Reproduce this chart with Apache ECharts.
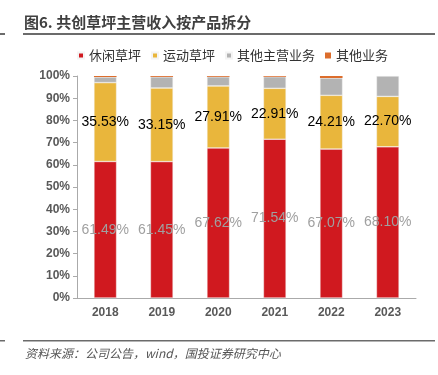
<!DOCTYPE html>
<html>
<head>
<meta charset="utf-8">
<title>共创草坪主营收入按产品拆分</title>
<script src="https://cdn.jsdelivr.net/npm/echarts@6/dist/echarts.min.js"></script>
<style>
  html, body { margin: 0; padding: 0; background: #fff; }
  #chart { width: 438px; height: 375px; }
</style>
</head>
<body>
<div id="chart"></div>
<script>
// 年份
var years = ['2018', '2019', '2020', '2021', '2022', '2023'];
// 各产品占比(%)
var leisure = [61.49, 61.45, 67.62, 71.54, 67.07, 68.10];
var sports = [35.53, 33.15, 27.91, 22.91, 24.21, 22.70];
var otherMain = [2.5, 5.0, 4.1, 5.2, 7.8, 9.2];
var otherBiz = [0.48, 0.4, 0.37, 0.35, 0.92, 0];
var yTicks = ['0%', '10%', '20%', '30%', '40%', '50%', '60%', '70%', '80%', '90%', '100%'];

var names = ['休闲草坪', '运动草坪', '其他主营业务', '其他业务'];
var colors = ['#d0191f', '#e9b63c', '#b3b3b3', '#dc6d2c'];

var myChart = echarts.init(document.getElementById('chart'));

function pct(p) { return p.value.toFixed(2) + '%'; }

var option = {
    animation: false,
    color: colors,
    textStyle: { fontFamily: 'Liberation Sans, Arial, sans-serif' },
    graphic: [
        { type: 'text', left: 24, top: 15,
          style: { text: '图6. 共创草坪主营收入按产品拆分', fill: '#404040',
                   font: 'bold 15px "Noto Sans CJK SC"' } },
        { type: 'rect', shape: { x: 23, y: 33, width: 412, height: 2 }, style: { fill: '#6b6b6b' } },
        { type: 'rect', shape: { x: 0, y: 33, width: 5, height: 2 }, style: { fill: '#6b6b6b' } },
        { type: 'rect', shape: { x: 23, y: 340, width: 412, height: 1.5 }, style: { fill: '#6b6b6b' } },
        { type: 'rect', shape: { x: 0, y: 340, width: 5, height: 1.5 }, style: { fill: '#6b6b6b' } },
        { type: 'text', left: 25, top: 347,
          style: { text: '资料来源：公司公告，wind，国投证券研究中心', fill: '#555',
                   font: 'italic 12px "Noto Sans CJK SC"' } }
    ],
    legend: {
        data: names,
        left: 77,
        top: 49,
        padding: 0,
        itemWidth: 6,
        itemHeight: 6,
        itemGap: 10,
        icon: 'rect',
        textStyle: { fontSize: 13, color: '#333', fontFamily: 'Noto Sans CJK SC' }
    },
    grid: { left: 77, right: 22, top: 76, bottom: 77 },
    xAxis: {
        type: 'category',
        data: years,
        axisLine: { lineStyle: { color: '#aaa' } },
        axisTick: { length: 4, lineStyle: { color: '#aaa' } },
        axisLabel: { color: '#595959', fontSize: 12, fontWeight: 'bold', margin: 9 }
    },
    yAxis: {
        type: 'value',
        min: 0,
        max: 100,
        interval: 10,
        axisLine: { show: true, lineStyle: { color: '#aaa' } },
        axisTick: { show: true, length: 4, lineStyle: { color: '#aaa' } },
        splitLine: { show: false },
        axisLabel: {
            color: '#595959', fontSize: 12, fontWeight: 'bold', margin: 7,
            formatter: function (v) { return yTicks[Math.round(v / 10)]; }
        }
    },
    series: [
        { name: names[0], type: 'bar', stack: 'a', barWidth: '40%', data: leisure,
          itemStyle: { borderColor: '#f4f4f4', borderWidth: 0.5 },
          label: { show: true, position: 'inside', formatter: pct, color: '#a0a0a0', fontSize: 14 } },
        { name: names[1], type: 'bar', stack: 'a', data: sports,
          itemStyle: { borderColor: '#f4f4f4', borderWidth: 0.5 },
          label: { show: true, position: 'inside', formatter: pct, color: '#000', fontSize: 14 } },
        { name: names[2], type: 'bar', stack: 'a', data: otherMain,
          itemStyle: { borderColor: '#f4f4f4', borderWidth: 0.5 } },
        { name: names[3], type: 'bar', stack: 'a', data: otherBiz }
    ]
};
myChart.setOption(option);
</script>
</body>
</html>
